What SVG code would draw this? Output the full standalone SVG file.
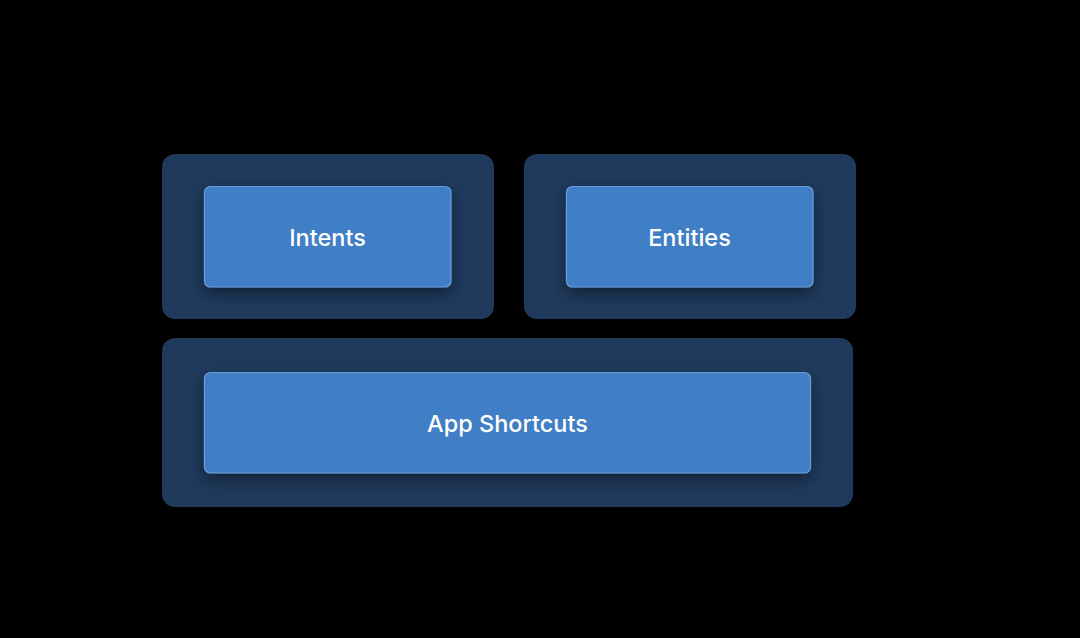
<svg xmlns="http://www.w3.org/2000/svg" width="1080" height="638" viewBox="0 0 1080 638">
<defs>
<filter id="sh" x="-20%" y="-30%" width="140%" height="170%">
<feGaussianBlur in="SourceAlpha" stdDeviation="8"/>
<feOffset dy="6" result="b"/>
<feComponentTransfer><feFuncA type="linear" slope="0.45"/></feComponentTransfer>
<feMerge><feMergeNode/><feMergeNode in="SourceGraphic"/></feMerge>
</filter>
</defs>
<style>
.outer{fill:#1f3a5d}
.inner{fill:#3f7ec5;stroke:#6b9dd8;stroke-width:1.2}
.lbl{font-family:Inter,"Liberation Sans",sans-serif;font-weight:500;font-size:23.5px;fill:#ffffff;text-anchor:middle;dominant-baseline:central}
</style>
<rect width="1080" height="638" fill="#000000"/>
<g id="intents">
<rect class="outer" x="162" y="154" width="332" height="165" rx="13"/>
<rect class="inner" x="204.5" y="186.5" width="246.5" height="100.5" rx="6" filter="url(#sh)"/>
<text class="lbl" x="327.5" y="237">Intents</text>
</g>
<g id="entities">
<rect class="outer" x="524" y="154" width="332" height="165" rx="13"/>
<rect class="inner" x="566.5" y="186.5" width="246.5" height="100.5" rx="6" filter="url(#sh)"/>
<text class="lbl" x="689.5" y="237">Entities</text>
</g>
<g id="app-shortcuts">
<rect class="outer" x="162" y="338" width="691" height="169" rx="13"/>
<rect class="inner" x="204.5" y="372.5" width="606" height="100.5" rx="6" filter="url(#sh)"/>
<text class="lbl" x="507.5" y="423">App Shortcuts</text>
</g>
<g id="connectors"/>
</svg>
